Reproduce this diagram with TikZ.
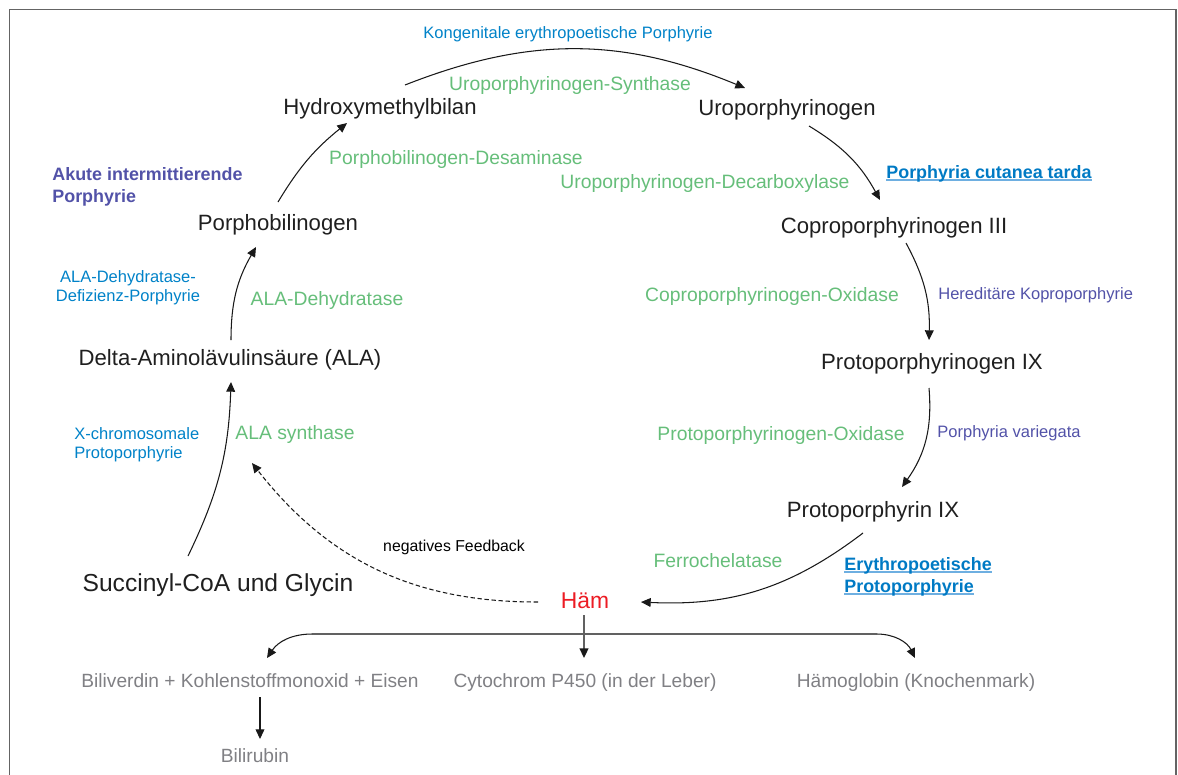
\documentclass[tikz,border=0pt]{standalone}
\usepackage{fontspec}
\setmainfont{Liberation Sans}
\usetikzlibrary{arrows.meta,calc}
\definecolor{enzymegreen}{RGB}{102,190,122}
\definecolor{diseaseblue}{RGB}{0,130,200}
\definecolor{diseasepurple}{RGB}{82,82,168}
\definecolor{linkblue}{RGB}{0,122,196}
\definecolor{linkline}{RGB}{110,175,225}
\definecolor{productgray}{RGB}{128,128,132}
\definecolor{haemred}{RGB}{236,28,36}
\definecolor{framegray}{RGB}{100,100,100}

\newcommand{\linkul}[1]{\setbox0\hbox{#1}\rlap{\color{linkline}\rule[-1.6pt]{\wd0}{0.9pt}}\box0}

\begin{document}
\begin{tikzpicture}[x=0.2mm, y=-0.2mm,
    every node/.style={inner sep=0pt},
    metab/.style={font=\fontsize{12.6}{15}\selectfont, text=black!88},
    enzyme/.style={font=\fontsize{11}{13}\selectfont, text=enzymegreen},
    disease/.style={font=\fontsize{9.4}{10.6}\selectfont, text=diseaseblue},
    diseasebf/.style={font=\fontsize{10.2}{12.5}\selectfont\bfseries},
    product/.style={font=\fontsize{10.9}{13}\selectfont, text=productgray},
    arr/.style={-{Triangle[length=5.5pt,width=5pt]}, line width=0.6pt, black!90}]
    \useasboundingbox (0,0) rectangle (1178,774);
    \draw[framegray, line width=0.7pt] (9.5,9.5) rectangle (1176,800);

    % intermediates
    \node[metab, anchor=base] (hmb) at (380,114) {Hydroxymethylbilan};
    \node[metab, anchor=base] (uro) at (787,115) {Uroporphyrinogen};
    \node[metab, anchor=base] (pbg) at (278,230) {Porphobilinogen};
    \node[metab, anchor=base] (copro) at (894,233) {Coproporphyrinogen III};
    \node[metab, anchor=base] (ala) at (230,365) {Delta-Aminolävulinsäure (ALA)};
    \node[metab, anchor=base] (protogen) at (932,369) {Protoporphyrinogen IX};
    \node[metab, anchor=base] (protoix) at (873,517) {Protoporphyrin IX};
    \node[metab, anchor=base, font=\fontsize{14}{16}\selectfont] (succ) at (218,591) {Succinyl-CoA und Glycin};
    \node[anchor=base, font=\fontsize{13}{15}\selectfont, text=haemred] (haem) at (585,608) {Häm};

    % enzymes
    \node[enzyme, anchor=base] (uros) at (570,90) {Uroporphyrinogen-Synthase};
    \node[enzyme, anchor=base] (pbgd) at (456,164) {Porphobilinogen-Desaminase};
    \node[enzyme, anchor=base] (urod) at (705,188) {Uroporphyrinogen-Decarboxylase};
    \node[enzyme, anchor=base] (alad) at (327,305) {ALA-Dehydratase};
    \node[enzyme, anchor=base] (cpox) at (772,301) {Coproporphyrinogen-Oxidase};
    \node[enzyme, anchor=base] (asyn) at (295,439) {ALA synthase};
    \node[enzyme, anchor=base] (ppox) at (781,440) {Protoporphyrinogen-Oxidase};
    \node[enzyme, anchor=base] (fech) at (718,567) {Ferrochelatase};

    % porphyrias
    \node[disease, anchor=base] (cep) at (568,38) {Kongenitale erythropoetische Porphyrie};
    \node[diseasebf, text=diseasepurple, anchor=base west, align=left] (aip) at (52,202) {Akute intermittierende\\Porphyrie};
    \node[diseasebf, text=linkblue, anchor=base west] (pct) at (886,178) {\linkul{Porphyria cutanea tarda}};
    \node[disease, anchor=base, align=center] (adp) at (128,301) {ALA-Dehydratase-\\Defizienz-Porphyrie};
    \node[disease, text=diseasepurple, anchor=base west] (hcp) at (938,299) {Hereditäre Koproporphyrie};
    \node[disease, anchor=base west, align=left] (xlp) at (74,458) {X-chromosomale\\Protoporphyrie};
    \node[disease, text=diseasepurple, anchor=base west] (vp) at (937,437) {Porphyria variegata};
    \node[diseasebf, text=linkblue, anchor=base west, align=left] (epp) at (844,592) {\linkul{Erythropoetische}\\\linkul{Protoporphyrie}};
    \node[anchor=base, font=\fontsize{9}{11}\selectfont] (fb) at (454,551) {negatives Feedback};

    % products
    \node[product, anchor=base] (bil) at (250,687) {Biliverdin + Kohlenstoffmonoxid + Eisen};
    \node[product, anchor=base] (cyt) at (585,687) {Cytochrom P450 (in der Leber)};
    \node[product, anchor=base] (hb) at (916,687) {Hämoglobin (Knochenmark)};
    \node[product, anchor=base] (bilr) at (255,762) {Bilirubin};

    % pathway
    \draw[arr] ($(succ.base)+(-30,-35)$) to[bend right=12] ($(ala.base)+(1,17)$);
    \draw[arr] ($(ala.base)+(1,-25)$) to[bend left=15] ($(pbg.base)+(-22,17)$);
    \draw[arr] ($(pbg.base)+(0,-28)$) to[bend left=10] ($(hmb.base)+(-33,9)$);
    \draw[arr] ($(hmb.base)+(25,-29)$) to[bend left=22] ($(uro.base)+(-42,-27)$);
    \draw[arr] ($(uro.base)+(22,11)$) to[bend left=15] ($(copro.base)+(-14,-33)$);
    \draw[arr] ($(copro.base)+(12,10)$) to[bend left=15] ($(protogen.base)+(-3,-29)$);
    \draw[arr] ($(protogen.base)+(-3,19)$) to[bend left=20] ($(protoix.base)+(29,-30)$);
    \draw[arr] ($(protoix.base)+(-10,16)$) to[bend left=20] ($(haem.base)+(56,-6)$);

    % feedback
    \draw[arr, dash pattern=on 2.5pt off 1.5pt] ($(haem.base)+(-47,-6)$) to[bend left=26] ($(asyn.base)+(-43,24)$);

    % breakdown
    \coordinate (barL) at (312,634);
    \coordinate (barR) at (877,634);
    \draw[black!62, line width=1pt] (barL) -- (barR);
    \draw[arr, black!62, line width=1pt, -{Triangle[length=5.5pt,width=5pt,color=black!90]}] ($(haem.base)+(-1,7)$) -- ($(cyt.base)+(-1,-29)$);
    \draw[arr] (barL) to[bend right=28] ($(bil.base)+(17,-29)$);
    \draw[arr] (barR) to[bend left=32] ($(hb.base)+(-1,-29)$);
    \draw[arr] ($(bil.base)+(10,10)$) -- ($(bilr.base)+(5,-23)$);
\end{tikzpicture}
\end{document}
